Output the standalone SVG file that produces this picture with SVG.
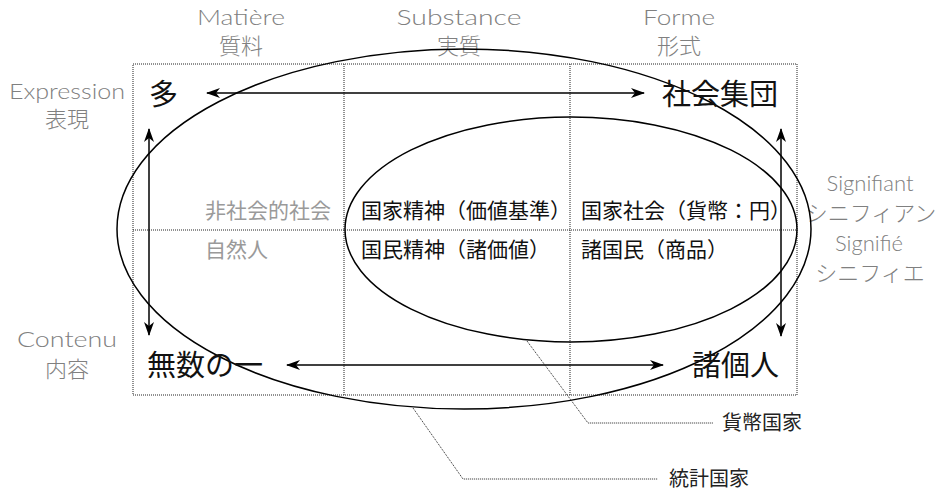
<svg xmlns="http://www.w3.org/2000/svg" width="940" height="494" viewBox="0 0 940 494">
<style>
.lbl{font-family:Lato,"Noto Sans","Noto Sans CJK JP",sans-serif;font-weight:300;fill:#808080;font-size:22px;text-anchor:middle}
.cjk{font-family:"Noto Sans CJK JP",sans-serif;font-weight:300}
.big{font-family:"Noto Sans CJK JP",sans-serif;font-size:29px;fill:#111}
.mid{font-family:"Noto Sans CJK JP",sans-serif;font-size:21px;fill:#111}
.gray{font-family:"Noto Sans CJK JP",sans-serif;font-size:21px;fill:#9a9a9a}
.dot{fill:none;stroke:#222;stroke-width:1;stroke-dasharray:1 1}
.ell{fill:none;stroke:#000;stroke-width:1.5}
.arr{fill:none;stroke:#000;stroke-width:1.5;marker-start:url(#ah);marker-end:url(#ah)}
.lead{font-family:"Noto Sans CJK JP",sans-serif;font-size:20px;fill:#222}
</style>
<defs>
<marker id="ah" viewBox="0 0 14 10" refX="13" refY="5" markerWidth="14" markerHeight="10" markerUnits="userSpaceOnUse" orient="auto-start-reverse">
<path d="M0,0 L14,5 L0,10 L4,5 Z" fill="#000"/>
</marker>
</defs>
<rect width="940" height="494" fill="#fff"/>

<g id="grid">
<rect class="dot" x="133" y="64" width="664" height="331"/>
<line class="dot" x1="344" y1="64" x2="344" y2="395"/>
<line class="dot" x1="570" y1="64" x2="570" y2="395"/>
<line class="dot" x1="133" y1="230" x2="797" y2="230"/>
</g>

<g id="headers">
<text class="lbl" x="241" y="25" textLength="88" lengthAdjust="spacingAndGlyphs">Matière</text>
<text class="lbl cjk" x="241" y="54" font-size="20">質料</text>
<text class="lbl" x="459" y="25" textLength="125" lengthAdjust="spacingAndGlyphs">Substance</text>
<text class="lbl cjk" x="459" y="54" font-size="20">実質</text>
<text class="lbl" x="679" y="25" textLength="72" lengthAdjust="spacingAndGlyphs">Forme</text>
<text class="lbl cjk" x="679" y="54" font-size="20">形式</text>
<text class="lbl" x="67" y="99" textLength="116" lengthAdjust="spacingAndGlyphs">Expression</text>
<text class="lbl cjk" x="67" y="127" font-size="20">表現</text>
<text class="lbl" x="67" y="347" textLength="100" lengthAdjust="spacingAndGlyphs">Contenu</text>
<text class="lbl cjk" x="67" y="377" font-size="20">内容</text>
<text class="lbl" x="870" y="191" font-size="18" textLength="87" lengthAdjust="spacingAndGlyphs">Signifiant</text>
<text class="lbl cjk" x="871" y="221" font-size="19">シニフィアン</text>
<text class="lbl" x="869" y="251" font-size="18" textLength="68" lengthAdjust="spacingAndGlyphs">Signifié</text>
<text class="lbl cjk" x="870" y="281" font-size="19">シニフィエ</text>
</g>

<g id="ellipses">
<ellipse id="toukei-kokka" class="ell" cx="464" cy="229" rx="347" ry="180"/>
<ellipse id="kahei-kokka" class="ell" cx="571" cy="229.5" rx="226" ry="112.5"/>
</g>

<g id="node-ta"><text class="big" x="149" y="105">多</text></g>
<g id="node-shakai-shudan"><text class="big" x="662" y="105">社会集団</text></g>
<g id="node-musuu"><text class="big" x="147" y="376">無数の一</text></g>
<g id="node-shokojin"><text class="big" x="692" y="376">諸個人</text></g>

<g id="node-hishakai"><text class="gray" x="331" y="218" text-anchor="end">非社会的社会</text></g>
<g id="node-shizenjin"><text class="gray" x="205" y="257">自然人</text></g>
<g id="node-kokka-seishin"><text class="mid" x="361" y="218">国家精神（価値基準）</text></g>
<g id="node-kokumin-seishin"><text class="mid" x="361" y="257">国民精神（諸価値）</text></g>
<g id="node-kokka-shakai"><text class="mid" x="581" y="218">国家社会（貨幣：円）</text></g>
<g id="node-shokokumin"><text class="mid" x="581" y="257">諸国民（商品）</text></g>

<g id="node-kahei-label"><text class="lead" x="722" y="430">貨幣国家</text></g>
<g id="node-toukei-label"><text class="lead" x="669" y="486">統計国家</text></g>

<g id="connectors">
<line class="arr" x1="207" y1="93" x2="644" y2="93"/>
<line class="arr" x1="287" y1="365" x2="663" y2="365"/>
<line class="arr" x1="149" y1="129" x2="149" y2="335"/>
<line class="arr" x1="781" y1="129" x2="781" y2="336"/>
<polyline class="dot" points="527,341 588,423 713,423"/>
<polyline class="dot" points="413,408 463,479 658,479"/>
</g>
</svg>
